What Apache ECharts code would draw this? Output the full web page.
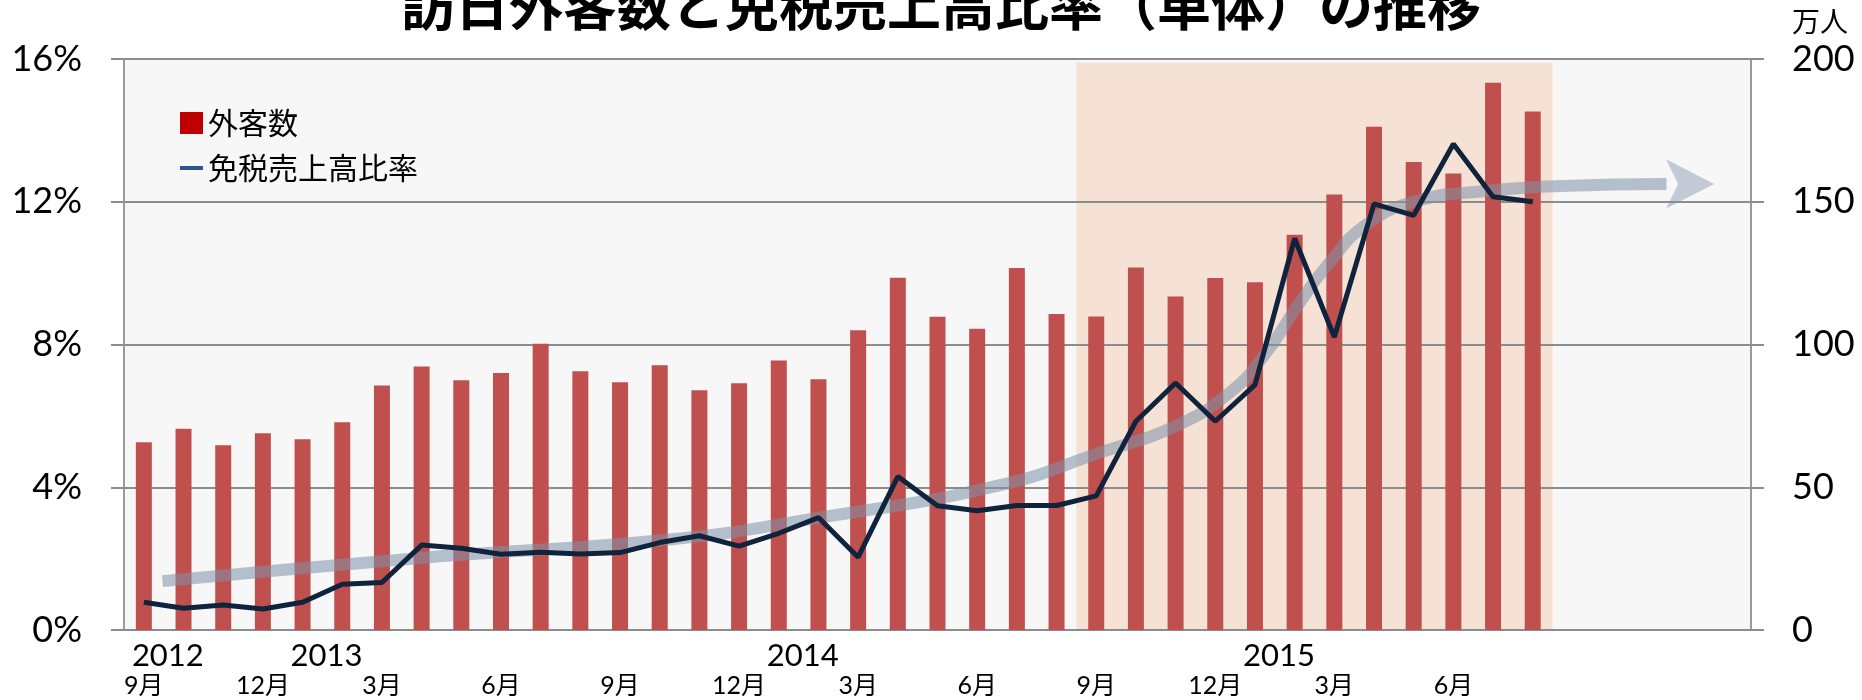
<!DOCTYPE html>
<html>
<head>
<meta charset="utf-8">
<script src="https://cdn.jsdelivr.net/npm/echarts@6/dist/echarts.min.js"></script>
<style>
  html, body { margin: 0; padding: 0; background: #fff; }
  #chart { width: 1862px; height: 700px; }
</style>
</head>
<body>
<div id="chart"></div>
<script>
// 月 (2012/9 - 2016/1)
var months = [
    '2012/9', '2012/10', '2012/11', '2012/12',
    '2013/1', '2013/2', '2013/3', '2013/4', '2013/5', '2013/6', '2013/7', '2013/8', '2013/9', '2013/10', '2013/11', '2013/12',
    '2014/1', '2014/2', '2014/3', '2014/4', '2014/5', '2014/6', '2014/7', '2014/8', '2014/9', '2014/10', '2014/11', '2014/12',
    '2015/1', '2015/2', '2015/3', '2015/4', '2015/5', '2015/6', '2015/7', '2015/8', '2015/9', '2015/10', '2015/11', '2015/12',
    '2016/1'
];
var yearLabels = { '2012/9': '2012', '2013/1': '2013', '2014/1': '2014', '2015/1': '2015' };

// 外客数 (万人)
var visitors = [65.8, 70.5, 64.7, 68.9, 66.8, 72.8, 85.6, 92.3, 87.5, 90.0, 100.3, 90.6,
    86.8, 92.7, 84.0, 86.4, 94.4, 87.8, 105.0, 123.4, 109.7, 105.5, 126.8, 110.7,
    109.8, 127.0, 116.8, 123.3, 121.8, 138.4, 152.5, 176.3, 163.9, 159.9, 191.7, 181.6];

// 免税売上高比率 (%)
var taxFreeRatio = [0.78, 0.61, 0.70, 0.59, 0.78, 1.28, 1.33, 2.38, 2.29, 2.12, 2.18, 2.13,
    2.17, 2.45, 2.64, 2.35, 2.71, 3.15, 2.04, 4.30, 3.48, 3.34, 3.49, 3.49,
    3.76, 5.85, 6.92, 5.85, 6.87, 10.97, 8.21, 11.94, 11.62, 13.62, 12.14, 12.00];

// トレンド矢印 [月位置, %]
var trendX = [0.97, 7.47, 13.86, 17.48, 22.08, 24.65, 26.45, 27.87, 28.76, 29.54, 30.31, 31.33, 32.62, 34.3, 36.22, 38.87];
var trendY = [1.37, 2.02, 2.55, 3.14, 4.06, 4.99, 5.69, 6.66, 7.74, 9.03, 10.2, 11.38, 12.03, 12.3, 12.44, 12.5];
var arrowHead = [40.07, 12.5];

var pctTicks = [0, 4, 8, 12, 16];
var peopleTicks = [0, 50, 100, 150, 200];

var bandStart = months.indexOf('2014/9');
var bandEnd = months.indexOf('2015/8') + 1;

var trendData = trendX.map(function (x, i) { return [x, trendY[i]]; });

var latin = 'Lato, "Noto Sans CJK JP", sans-serif';
var jp = '"Noto Sans CJK JP", sans-serif';
var gridGray = '#8c8c8c';
var trendColor = 'rgba(125,145,170,0.55)';

var chart = echarts.init(document.getElementById('chart'));

var option = {
    animation: false,
    title: {
        text: '訪日外客数と免税売上高比率（単体）の推移',
        left: 396,
        top: -27,
        textStyle: { fontFamily: jp, fontSize: 54, fontWeight: 'bold', color: '#000' }
    },
    legend: {
        orient: 'vertical',
        left: 175,
        top: 103,
        itemWidth: 23,
        itemHeight: 22,
        itemGap: 15,
        textStyle: { fontFamily: jp, fontSize: 30, color: '#000' },
        data: [
            { name: '外客数', icon: 'rect', itemStyle: { color: '#c00000' } },
            { name: '免税売上高比率', icon: 'path://M0,0M23,22M0,9h23v4h-23z', itemStyle: { color: '#2c5591' } }
        ]
    },
    grid: {
        left: 124, right: 111, top: 59, bottom: 70,
        show: true, backgroundColor: '#f7f7f7', borderWidth: 0
    },
    xAxis: [{
        type: 'category',
        data: months,
        z: 2,
        axisLine: { lineStyle: { color: gridGray, width: 2 } },
        axisTick: {
            length: 8,
            lineStyle: { color: gridGray, width: 2 },
            interval: function (i) { return i % 3 === 0; }
        },
        axisLabel: {
            interval: 0,
            margin: 10,
            color: '#000',
            formatter: function (v, i) {
                var y = yearLabels[v] || ' ';
                var m = (i % 3 === 0 && i < visitors.length) ? v.split('/')[1] + '月' : ' ';
                return '{y|' + y + '}\n{m|' + m + '}';
            },
            rich: {
                y: { fontFamily: latin, fontSize: 31, lineHeight: 31, padding: [0, 0, 0, 48], color: '#000' },
                m: { fontFamily: latin, fontSize: 25, lineHeight: 29, color: '#000' }
            }
        }
    }, {
        type: 'value',
        show: false,
        min: 0,
        max: months.length
    }],
    yAxis: [{
        type: 'value',
        min: pctTicks[0],
        max: pctTicks[pctTicks.length - 1],
        interval: 4,
        z: 2,
        axisLine: { show: true, lineStyle: { color: '#9a9a9a', width: 2 } },
        axisTick: { show: true, length: 13, lineStyle: { color: gridGray, width: 2 } },
        splitLine: { lineStyle: { color: gridGray, width: 2 } },
        axisLabel: {
            margin: 42,
            fontFamily: latin, fontSize: 36, color: '#000',
            formatter: '{value}%'
        }
    }, {
        type: 'value',
        min: peopleTicks[0],
        max: peopleTicks[peopleTicks.length - 1],
        interval: 50,
        position: 'right',
        z: 2,
        name: '万人',
        nameLocation: 'end',
        nameGap: 24,
        nameTextStyle: { fontFamily: jp, fontSize: 28, color: '#000', align: 'left', padding: [0, 0, 0, 41] },
        axisLine: { show: true, lineStyle: { color: '#9a9a9a', width: 2 } },
        axisTick: { show: true, length: 13, lineStyle: { color: gridGray, width: 2 } },
        splitLine: { show: false },
        axisLabel: { margin: 41, fontFamily: latin, fontSize: 36, color: '#000' }
    }],
    series: [{
        name: 'band',
        type: 'line',
        xAxisIndex: 1,
        yAxisIndex: 0,
        data: [],
        z: 1,
        silent: true,
        markArea: {
            silent: true,
            z: 1,
            itemStyle: { color: '#f5e2d4' },
            data: [[{ xAxis: bandStart, yAxis: 0 }, { xAxis: bandEnd, yAxis: 15.9 }]]
        }
    }, {
        name: '外客数',
        type: 'bar',
        yAxisIndex: 1,
        data: visitors,
        barWidth: 16,
        z: 3,
        itemStyle: { color: '#c0504d' }
    }, {
        name: 'trend',
        type: 'line',
        xAxisIndex: 1,
        yAxisIndex: 0,
        data: trendData,
        smooth: 0.5,
        symbol: 'none',
        z: 4,
        silent: true,
        lineStyle: { color: trendColor, width: 12, cap: 'butt' }
    }, {
        name: 'arrow',
        type: 'scatter',
        xAxisIndex: 1,
        yAxisIndex: 0,
        data: [arrowHead],
        symbol: 'arrow',
        symbolSize: [37, 48],
        symbolRotate: -90,
        z: 4,
        silent: true,
        itemStyle: { color: trendColor }
    }, {
        name: '免税売上高比率',
        type: 'line',
        yAxisIndex: 0,
        data: taxFreeRatio,
        symbol: 'none',
        z: 5,
        lineStyle: { color: '#10233d', width: 5 }
    }]
};

chart.setOption(option);
</script>
</body>
</html>
